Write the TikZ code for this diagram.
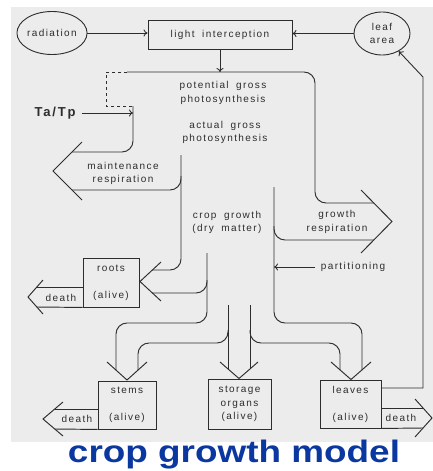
\documentclass[tikz,border=0pt]{standalone}
\usepackage{fontspec}
\newfontfamily\scanfont[LetterSpace=14,WordSpace=1.8]{Liberation Sans}
\newfontfamily\titlefont{Liberation Sans}
\usetikzlibrary{shapes.geometric, arrows.meta, positioning}
\definecolor{scanbg}{RGB}{236,236,236}
\definecolor{ink}{RGB}{45,45,45}
\definecolor{titleblue}{RGB}{10,55,160}

\tikzset{
	lbl/.style={font=\scanfont\fontsize{10}{13.5}\selectfont, text=ink, align=center, inner sep=0pt},
	box/.style={lbl, draw=ink, line width=0.9pt},
	oval/.style={box, ellipse},
	pipe/.style={draw=ink, line width=0.95pt, rounded corners=11pt},
	head/.style={draw=ink, line width=0.95pt},
	flow/.style={draw=ink, line width=0.9pt, -{To[length=4pt,width=7pt]}},
}

\begin{document}
\begin{tikzpicture}[x=1pt, y=-1pt]
				\useasboundingbox (0,0) rectangle (433,471);
				\fill [scanbg] (11,7) rectangle (433,442);
				
				\node [oval, minimum width=60pt, minimum height=43pt] (rad) at (52,33) {radiation};
				\node [box, minimum width=144pt, minimum height=29pt] (light) at (220,34.5) {light interception};
				\node [oval, minimum width=56pt, minimum height=43pt] (leaf) at (382,33.5) {leaf\\area};
				\coordinate (gtop) at (220,72);
				\coordinate (lwall) at (133,106);
				\coordinate (mwall) at (274,267);
				
				\node [lbl] (pgp) at (223,93) {potential gross\\photosynthesis};
				\node [lbl] (agp) at (225,132.5) {actual gross\\photosynthesis};
				\node [lbl, font=\scanfont\bfseries\fontsize{13}{13}\selectfont] (tatp) at (55,113) {Ta/Tp};
				\node [lbl] (mresp) at (123,173.5) {maintenance\\respiration};
				\node [lbl] (cgrowth) at (227,222.5) {crop growth\\(dry matter)};
				\node [lbl] (gresp) at (337,222) {growth\\respiration};
				\node [lbl] (part) at (353,267) {partitioning};
				
				\node [box, minimum width=56pt, minimum height=49pt] (roots) at (111,282.5) {roots\\[13.5pt](alive)};
				\node [box, minimum width=58pt, minimum height=48pt] (stems) at (127,405) {stems\\[13.5pt](alive)};
				\node [box, minimum width=63pt, minimum height=50pt] (storage) at (239.5,404) {storage\\organs\\(alive)};
				\node [box, minimum width=61pt, minimum height=48pt] (leaves) at (350.5,404) {leaves\\[13.5pt](alive)};
				\node [lbl] (rdeath) at (61,298) {death};
				\node [lbl] (sdeath) at (77,419) {death};
				\node [lbl] (ldeath) at (401,418) {death};
				
				\draw [flow] (rad) -- (rad -| light.west);
				\draw [flow] (leaf) -- (leaf -| light.east);
				\draw [flow] (light) -- (gtop);
				\draw [flow] ([xshift=6pt]tatp.east) -- (tatp -| lwall);
				\draw [flow] ([xshift=-6pt]part.west) -- (mwall);
				\draw [flow] (leaves.east |- 0,388) -- (423,388) -- (423,77) -- (leaf);
				
				% assimilate stream
				\draw [pipe, dashed, rounded corners=0pt] (127,72) -- (106,72) -- (106,106) -- (lwall);
				\draw [pipe] (127,72) -- (315,72) -- (315,203) -- (374,203);
				\draw [pipe] (lwall) -- (133,152) -- (72,152);
				\draw [pipe] (181,155) -- (181,270) -- (152.4,270);
				\draw [pipe] (181,176) |- (72,190);
				\draw [pipe] (207,253) -- (207,323) -- (116,323) -- (116,370);
				\draw [pipe] (207,280) |- (152.4,293);
				\draw [pipe] (228,305) -- (228,369);
				\draw [pipe] (228,330) |- (138,343) -- (138,370);
				\draw [pipe] (250,305) -- (250,369);
				\draw [pipe] (250,330) |- (340,343) -- (340,370);
				\draw [pipe] (274,187) -- (274,323) -- (362,323) -- (362,370);
				\draw [pipe] (274,226) |- (374,240);
				
				\draw [head] (82,142) -- (53,171) -- (82,200);
				\draw [head] (361,190) -- (392,221.5) -- (361,253);
				\draw [head] (161,262) -- (140,281.5) -- (161,301);
				\draw [head] (107,362) -- (127,380) -- (147,362);
				\draw [head] (220,362) -- (239,378.5) -- (258,362);
				\draw [head] (331,362) -- (351,379.5) -- (371,362);
				
				\draw [head] (43,280) -- (28,297) -- (43,314);
				\draw [head] (roots.west |- 0,287) -- (36.8,287);
				\draw [head] (roots.south west) -- (36.8,307);
				\draw [head] (63,402) -- (43,419) -- (63,436);
				\draw [head] (stems.west |- 0,409) -- (54.8,409);
				\draw [head] (stems.south west) -- (54.8,429);
				\draw [head] (415,399) -- (432,418) -- (415,437);
				\draw [head] (leaves.east |- 0,408) -- (423,408);
				\draw [head] (leaves.south east) -- (423,428);
				
				\node [inner sep=0pt, text=titleblue, font=\titlefont\bfseries\fontsize{31}{31}\selectfont] (title) at (234,455) {\scalebox{1.19}[1]{crop growth model}};
\end{tikzpicture}
\end{document}
